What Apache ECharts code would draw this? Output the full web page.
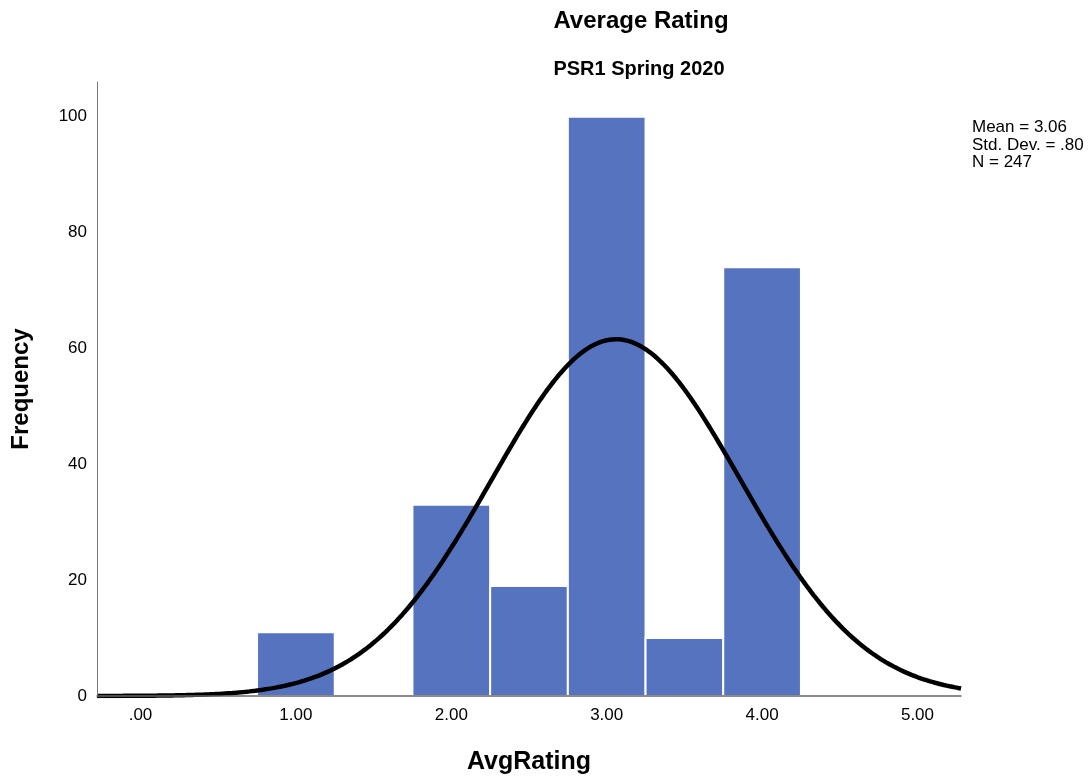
<!DOCTYPE html>
<html>
<head>
<meta charset="utf-8">
<script src="https://cdn.jsdelivr.net/npm/echarts@6/dist/echarts.min.js"></script>
<style>
  html, body { margin: 0; padding: 0; background: #fff; }
  #chart { width: 1092px; height: 780px; }
</style>
</head>
<body>
<div id="chart"></div>
<script>
// Histogram bins of AvgRating (width 0.5) and their frequencies
const binStarts = [0.75, 1.75, 2.25, 2.75, 3.25, 3.75];
const binWidth = 0.5;
const frequencies = [11, 33, 19, 100, 10, 74];

// Summary statistics shown in the legend box and used for the normal curve
const statMean = 3.06;
const statStdDev = 0.80;
const statN = 247;

// Axis tick labels
const xTickValues = [0, 1, 2, 3, 4, 5];
const xTickLabels = ['.00', '1.00', '2.00', '3.00', '4.00', '5.00'];

const xMin = -0.28, xMax = 5.28;

// Normal curve scaled to counts: N * binWidth * pdf(x)
const curve = [];
for (let i = 0; i <= 300; i++) {
  const x = xMin + (xMax - xMin) * i / 300;
  const z = (x - statMean) / statStdDev;
  const y = statN * binWidth * Math.exp(-0.5 * z * z) / (statStdDev * Math.sqrt(2 * Math.PI));
  curve.push([x, y]);
}

const barData = binStarts.map((s, i) => [s, s + binWidth, frequencies[i]]);

const chart = echarts.init(document.getElementById('chart'));
const font = 'Arial, "Liberation Sans", sans-serif';

chart.setOption({
  animation: false,
  backgroundColor: '#ffffff',
  title: [
    { text: 'Average Rating', left: 636, top: 4, textAlign: 'center',
      textStyle: { fontFamily: font, fontSize: 24, fontWeight: 'bold', color: '#000' } },
    { text: 'PSR1 Spring 2020', left: 634, top: 54, textAlign: 'center',
      textStyle: { fontFamily: font, fontSize: 20, fontWeight: 'bold', color: '#000' } }
  ],
  graphic: [
    { type: 'text', left: 972, top: 119,
      style: { text: 'Mean = 3.06\nStd. Dev. = .80\nN = 247', fontFamily: font, fontSize: 17,
               lineHeight: 17.5, fill: '#000' } }
  ],
  grid: { left: 97, right: 131, top: 82, bottom: 82 },
  xAxis: {
    type: 'value', min: xMin, max: xMax, z: 10,
    name: 'AvgRating', nameLocation: 'middle', nameGap: 54,
    nameTextStyle: { fontFamily: font, fontSize: 25, fontWeight: 'bold', color: '#000' },
    axisLine: { show: true, onZero: false, lineStyle: { color: '#666', width: 1.5 } },
    axisTick: { show: false },
    splitLine: { show: false },
    axisLabel: {
      customValues: xTickValues,
      formatter: v => xTickLabels[xTickValues.indexOf(Math.round(v))] ?? '',
      fontFamily: font, fontSize: 17, color: '#000', margin: 11
    }
  },
  yAxis: {
    type: 'value', min: 0, max: 106, interval: 20, z: 10,
    name: 'Frequency', nameLocation: 'middle', nameGap: 64, nameRotate: 90,
    nameTextStyle: { fontFamily: font, fontSize: 24, fontWeight: 'bold', color: '#000' },
    axisLine: { show: true, onZero: false, lineStyle: { color: '#777', width: 1 } },
    axisTick: { show: false },
    splitLine: { show: false },
    axisLabel: {
      formatter: v => (v % 20 === 0 ? String(v) : ''),
      fontFamily: font, fontSize: 17, color: '#000', margin: 10
    }
  },
  series: [
    {
      type: 'custom',
      data: barData,
      encode: { x: [0, 1], y: 2 },
      renderItem: (params, api) => {
        const p0 = api.coord([api.value(0), 0]);
        const p1 = api.coord([api.value(1), api.value(2)]);
        return {
          type: 'rect',
          shape: { x: p0[0], y: p1[1], width: p1[0] - p0[0], height: p0[1] - p1[1] },
          style: { fill: '#5573bf', stroke: '#ffffff', lineWidth: 2 }
        };
      },
      z: 2
    },
    {
      type: 'line',
      data: curve,
      showSymbol: false,
      smooth: false,
      lineStyle: { color: '#000', width: 4.5 },
      z: 3
    }
  ]
});
</script>
</body>
</html>
